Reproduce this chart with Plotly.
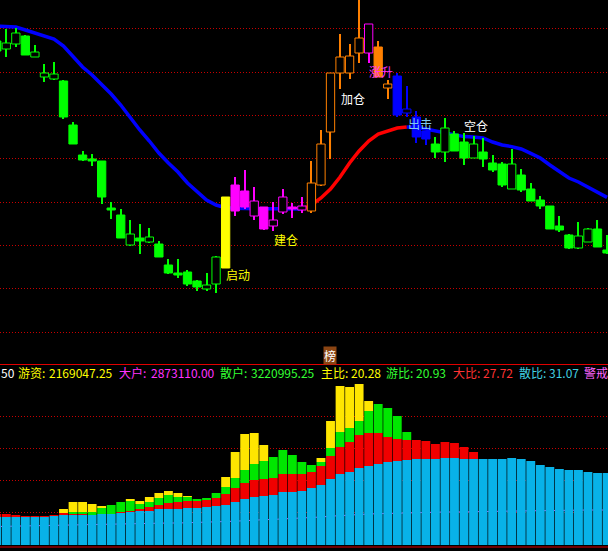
import plotly.graph_objects as go

# ---------------- data ----------------
idx = list(range(65))

open_ = [25.50, 25.10, 25.35, 25.75, 24.70, 23.70, 23.60, 23.50, 21.30, 19.80,
         19.60, 19.50, 17.15, 16.80, 15.30, 15.65, 15.45, 15.35, 14.30, 13.90,
         13.95, 13.50, 13.10, 13.35, 14.15, 18.30, 18.00, 16.75, 17.20, 16.25,
         16.95, 17.20, 17.05, 17.00, 18.30, 20.95, 23.90, 23.90, 24.90, 24.90,
         25.20, 23.15, 23.75, 21.90, 21.70, 21.00, 20.35, 19.95, 20.85, 20.45,
         19.65, 19.95, 19.40, 19.35, 18.10, 18.80, 18.10, 17.55, 17.25, 16.25,
         15.80, 15.15, 15.45, 16.10, 15.05]
close = [25.00, 25.40, 25.90, 24.80, 24.95, 23.90, 23.85, 21.70, 20.35, 19.55,
         19.50, 17.70, 17.05, 15.65, 15.85, 15.50, 15.70, 14.70, 13.90, 13.80,
         13.35, 13.20, 13.30, 14.70, 17.70, 17.00, 17.20, 17.50, 16.10, 16.55,
         17.70, 17.10, 17.25, 18.40, 20.35, 23.90, 24.70, 24.75, 25.65, 26.35,
         23.70, 23.35, 21.80, 22.10, 20.70, 20.60, 19.95, 21.15, 20.00, 19.65,
         20.35, 19.60, 19.05, 18.30, 19.35, 18.05, 17.50, 17.25, 16.10, 16.05,
         15.15, 15.75, 16.10, 15.20, 14.90]
high = [25.65, 26.10, 26.15, 25.80, 25.30, 24.35, 24.45, 23.55, 21.45, 20.00,
        19.85, 19.50, 17.45, 17.10, 16.55, 16.35, 16.15, 15.50, 14.60, 14.60,
        14.05, 13.55, 13.90, 14.75, 17.70, 18.70, 19.05, 18.20, 17.20, 17.45,
        18.10, 17.40, 17.70, 19.50, 21.05, 23.90, 25.85, 25.35, 27.70, 26.35,
        25.50, 23.55, 23.90, 23.25, 22.00, 21.00, 20.70, 21.65, 21.00, 20.90,
        20.75, 20.65, 19.80, 19.45, 20.10, 19.10, 18.40, 17.75, 17.25, 16.75,
        15.85, 16.45, 16.15, 16.55, 15.80]
low = [24.90, 24.70, 25.20, 24.80, 24.70, 23.45, 23.55, 21.60, 20.35, 19.50,
       19.25, 17.35, 16.60, 15.65, 15.25, 14.85, 15.40, 14.70, 13.85, 13.65,
       13.25, 13.00, 13.00, 12.90, 14.15, 16.75, 17.10, 16.55, 16.05, 16.00,
       16.85, 16.65, 16.90, 16.90, 18.25, 19.60, 23.10, 23.60, 24.40, 24.40,
       23.70, 22.60, 21.70, 21.70, 20.40, 20.30, 19.65, 19.45, 20.00, 19.30,
       19.65, 19.20, 18.95, 18.20, 18.10, 17.95, 17.50, 17.10, 16.10, 15.95,
       15.10, 15.10, 15.45, 15.20, 14.85]
# phase of each candle: G green, Y yellow, M magenta, O orange, B blue
phase = list("G" * 24 + "Y" + "M" * 8 + "O" * 6 + "M" + "O" * 2 + "B" * 4 + "G" * 19)

ma = [26.25, 26.22, 26.20, 26.05, 25.90, 25.75, 25.60, 25.25, 24.75, 24.20,
      23.80, 23.35, 22.85, 22.30, 21.65, 21.05, 20.50, 19.90, 19.40, 18.95,
      18.40, 18.00, 17.55, 17.30, 17.16, 17.14, 17.12, 17.12, 17.11, 17.11,
      17.10, 17.10, 17.10, 17.30, 17.65, 18.10, 18.70, 19.40, 20.00, 20.50,
      20.85, 21.00, 21.15, 21.20, 21.18, 21.10, 21.00, 20.88, 20.80, 20.72,
      20.70, 20.65, 20.45, 20.30, 20.22, 20.10, 19.88, 19.65, 19.30, 19.00,
      18.65, 18.45, 18.18, 17.90, 17.68]

# lower panel stacked segments
seg_cyan = [2.8, 2.8, 2.8, 2.8, 2.8, 2.8, 2.9, 3.0, 3.0, 3.0,
            3.0, 3.1, 3.1, 3.2, 3.3, 3.4, 3.4, 3.6, 3.6, 3.6,
            3.7, 3.7, 3.8, 3.9, 4.0, 4.3, 4.6, 4.8, 4.9, 5.0,
            5.3, 5.3, 5.4, 5.7, 6.0, 6.6, 7.1, 7.3, 7.7, 7.9,
            8.1, 8.3, 8.4, 8.5, 8.6, 8.6, 8.6, 8.7, 8.7, 8.6,
            8.6, 8.6, 8.6, 8.6, 8.7, 8.6, 8.4, 8.0, 7.8, 7.6,
            7.5, 7.5, 7.3, 7.2, 7.2]
seg_red = [0.3, 0.3, 0.2, 0.1, 0.1, 0.1, 0.1, 0.2, 0.1, 0.1,
           0.0, 0.0, 0.0, 0.1, 0.1, 0.2, 0.4, 0.4, 0.6, 0.7,
           0.7, 0.7, 0.7, 0.8, 1.1, 1.4, 1.6, 1.7, 1.7, 1.7,
           1.8, 1.8, 1.7, 1.6, 1.9, 2.3, 2.7, 3.0, 3.3, 3.3,
           3.1, 2.5, 2.2, 2.0, 1.9, 1.8, 1.5, 1.6, 1.5, 1.2,
           0.7, 0, 0, 0, 0, 0, 0, 0, 0, 0,
           0, 0, 0, 0, 0]
seg_green = [0, 0, 0, 0, 0, 0, 0, 0, 0.2, 0.2,
             0.3, 0.6, 0.9, 1.0, 1.0, 0.5, 0.5, 0.7, 0.8, 0.5,
             0.4, 0.2, 0.2, 0.5, 0.7, 1.0, 1.3, 1.6, 1.8, 2.1,
             2.4, 1.9, 1.2, 0.7, 0.4, 0.8, 1.5, 1.4, 1.4, 2.2,
             2.9, 2.9, 2.3, 0.8, 0, 0, 0, 0, 0, 0,
             0, 0, 0, 0, 0, 0, 0, 0, 0, 0,
             0, 0, 0, 0, 0]
seg_yellow = [0, 0, 0, 0, 0, 0, 0, 0.4, 1.0, 1.0,
              0.8, 0.2, 0, 0, 0.2, 0.3, 0.5, 0.5, 0.4, 0.4,
              0.1, 0, 0, 0, 1.0, 2.6, 3.6, 3.1, 1.6, 0,
              0, 0, 0, 0, 0.4, 2.7, 4.6, 4.1, 3.7, 1.0,
              0, 0, 0, 0, 0, 0, 0, 0, 0, 0,
              0, 0, 0, 0, 0, 0, 0, 0, 0, 0,
              0, 0, 0, 0, 0]
low_line = [1.85, 1.87, 1.89, 1.90, 1.92, 1.94, 1.96, 2.00, 2.02, 2.04,
            2.06, 2.10, 2.12, 2.14, 2.16, 2.20, 2.20, 2.20, 2.20, 2.20,
            2.22, 2.24, 2.26, 2.30, 2.33, 2.38, 2.43, 2.50, 2.53, 2.56,
            2.60, 2.62, 2.65, 2.70, 2.80, 2.88, 2.95, 3.00, 3.06, 3.10,
            3.13, 3.16, 3.20, 3.22, 3.25, 3.28, 3.30, 3.30, 3.30, 3.30,
            3.32, 3.34, 3.36, 3.38, 3.40, 3.40, 3.40, 3.42, 3.45, 3.48,
            3.50, 3.50, 3.50, 3.50, 3.50]

# info row texts
info_labels = ["50", "游资:", "2169047.25", "大户:", "2873110.00", "散户:", "3220995.25",
               "主比:", "20.28", "游比:", "20.93", "大比:", "27.72", "散比:", "31.07", "警戒"]
info_colors = ["#FFFFFF", "#FFFF00", "#FFFF00", "#FF33FF", "#FF33FF", "#33FF33", "#33FF33",
               "#FFFF00", "#FFFF00", "#33FF33", "#33FF33", "#FF3333", "#FF3333", "#40D0E0", "#40D0E0",
               "#FF66FF"]
info_x = [0, 17, 48, 118, 150, 219, 250, 320, 350, 385, 415, 452, 482, 518, 548, 583]

# signal labels: (text, x index, price, colour)
signals = [("启动", 23.9, 13.85, "#FFFF00"),
           ("建仓", 28.95, 15.60, "#FFFF00"),
           ("加仓", 36.0, 22.65, "#FFFFFF"),
           ("涨升", 38.9, 23.97, "#FF33FF"),
           ("出击", 43.0, 21.37, "#80C8F0"),
           ("空仓", 48.9, 21.30, "#FFFFFF")]

# ---------------- figure ----------------
PH = {"G": "#00FF00", "Y": "#FFFF00", "M": "#FF00FF", "O": "#FF8000", "B": "#0000FF"}
W, H = 608, 551
XR = [0.339, 64.10]
TOP_R = [9.40, 27.55]
BOT_R = [0.0, 16.7]
top_dom = [(H - 363) / H, 1.0]
bot_dom = [(H - 545) / H, (H - 378) / H]

fig = go.Figure()

# moving average, red where rising, blue otherwise
runs = []
cur = None
for i in range(1, len(ma)):
    c = "#FF0000" if ma[i] > ma[i - 1] else "#0000FF"
    if c != cur:
        runs.append([c, i - 1, i])
        cur = c
    else:
        runs[-1][2] = i
for c, s, e in runs:
    fig.add_trace(go.Scatter(x=idx[s:e + 1], y=ma[s:e + 1], mode="lines",
                             line=dict(color=c, width=3.5), xaxis="x", yaxis="y",
                             hoverinfo="skip", showlegend=False))

# candles (drawn on overlay axes above the MA line)
cols = [PH[p] for p in phase]
hollow = [(c > o and p != "Y") for o, c, p in zip(open_, close, phase)]
fills = ["#000000" if h else col for h, col in zip(hollow, cols)]
fig.add_trace(go.Bar(x=idx, y=[h - l for h, l in zip(high, low)], base=low, width=0.11,
                     marker=dict(color=cols, line=dict(width=0)),
                     xaxis="x3", yaxis="y3", hoverinfo="skip", showlegend=False))
fig.add_trace(go.Bar(x=idx, y=[max(abs(c - o), 0.06) for o, c in zip(open_, close)],
                     base=[min(o, c) for o, c in zip(open_, close)], width=0.87,
                     marker=dict(color=fills, line=dict(color=cols, width=1)),
                     xaxis="x3", yaxis="y3", hoverinfo="skip", showlegend=False))

# lower panel: thin magenta line behind the bars
fig.add_trace(go.Scatter(x=idx, y=low_line, mode="lines", line=dict(color="#FF40FF", width=1),
                         xaxis="x2", yaxis="y2", hoverinfo="skip", showlegend=False))

b_red = [a for a in seg_cyan]
b_green = [a + b for a, b in zip(seg_cyan, seg_red)]
b_yel = [a + b + c for a, b, c in zip(seg_cyan, seg_red, seg_green)]
for vals, base, col in [(seg_cyan, [0] * len(idx), "#08B2E8"),
                        (seg_red, b_red, "#F00000"),
                        (seg_green, b_green, "#00E600"),
                        (seg_yellow, b_yel, "#FFE600")]:
    fig.add_trace(go.Bar(x=idx, y=vals, base=base, width=0.93,
                         marker=dict(color=col, line=dict(width=0)),
                         xaxis="x4", yaxis="y4", hoverinfo="skip", showlegend=False))

top_grid = [10.95, 13.115, 15.28, 17.445, 19.61, 21.775, 23.94, 26.105]
bot_grid = [3.3, 6.5, 9.7, 12.9]

ax_common = dict(showticklabels=False, zeroline=False, showline=False, ticks="", fixedrange=True)
fig.update_layout(
    width=W, height=H, margin=dict(l=0, r=0, t=0, b=0),
    paper_bgcolor="#000000", plot_bgcolor="#000000",
    barmode="overlay", showlegend=False,
    xaxis=dict(domain=[0, 1], range=XR, anchor="y", showgrid=False, **ax_common),
    yaxis=dict(domain=top_dom, range=TOP_R, anchor="x", showgrid=True, tickvals=top_grid,
               gridcolor="#C80000", griddash="1px,2px", gridwidth=1, **ax_common),
    xaxis3=dict(range=XR, overlaying="x", anchor="y3", showgrid=False, **ax_common),
    yaxis3=dict(range=TOP_R, overlaying="y", anchor="x3", showgrid=False, **ax_common),
    xaxis2=dict(domain=[0, 1], range=XR, anchor="y2", showgrid=False, **ax_common),
    yaxis2=dict(domain=bot_dom, range=BOT_R, anchor="x2", showgrid=True, tickvals=bot_grid,
                gridcolor="#C80000", griddash="1px,2px", gridwidth=1, **ax_common),
    xaxis4=dict(range=XR, overlaying="x2", anchor="y4", showgrid=False, **ax_common),
    yaxis4=dict(range=BOT_R, overlaying="y2", anchor="x4", showgrid=False, **ax_common),
    font=dict(family="Noto Sans CJK SC"),
)

fig.add_shape(type="line", xref="paper", yref="paper", x0=0, x1=1,
              y0=(H - 364.5) / H, y1=(H - 364.5) / H, line=dict(color="#E00000", width=1.2))
fig.add_shape(type="line", xref="paper", yref="paper", x0=0, x1=1,
              y0=(H - 547) / H, y1=(H - 547) / H, line=dict(color="#E00000", width=1))

for t, xp, c in zip(info_labels, info_x, info_colors):
    fig.add_annotation(text=t, xref="paper", yref="paper", x=xp / W, y=(H - 372) / H,
                       xanchor="left", yanchor="middle", showarrow=False, borderpad=0,
                       font=dict(size=12, color=c, family="Noto Sans CJK SC"))

for t, xi, yi, c in signals:
    fig.add_annotation(text=t, xref="x3", yref="y3", x=xi, y=yi, xanchor="left", yanchor="middle",
                       showarrow=False, borderpad=0,
                       font=dict(size=12, color=c, family="Noto Sans CJK SC"))

fig.add_annotation(text="榜", xref="x3", yref="y3", x=34.9, y=9.775, xanchor="center",
                   yanchor="middle", showarrow=False, bgcolor="#8B4513", borderpad=0,
                   font=dict(size=12, color="#FFFFFF", family="Noto Sans CJK SC"))

fig.write_html("out.html", config={"displayModeBar": False},
               post_script="document.body.style.margin='0';document.body.style.backgroundColor='black';")
